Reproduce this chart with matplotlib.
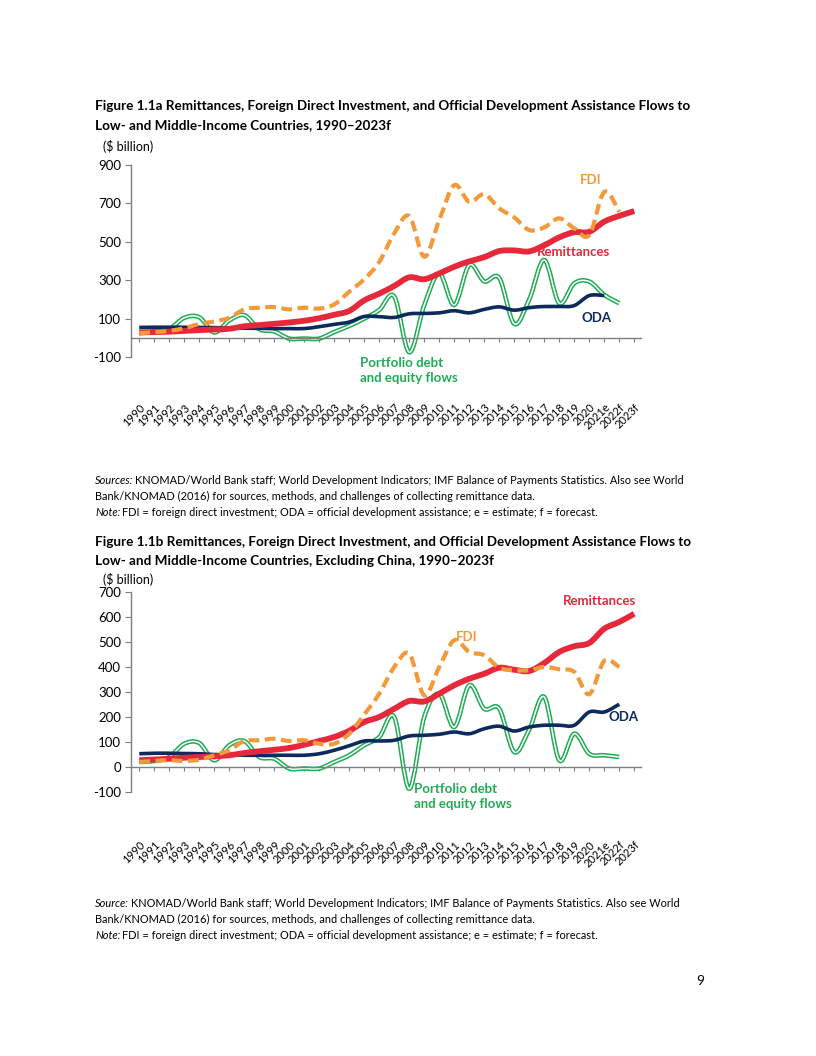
import numpy as np
import matplotlib.pyplot as plt
from matplotlib.path import Path
from matplotlib.patches import PathPatch

plt.rcParams['font.family'] = ['Lato', 'DejaVu Sans']
plt.rcParams['axes.unicode_minus'] = False

# categorias del eje x
years = [str(y) for y in range(1990, 2021)] + ['2021e', '2022f', '2023f']

# Figura 1.1a: todos los paises de ingreso bajo y medio ($ billion)
rem_a = [28, 30, 32, 36, 40, 43, 47, 60, 66, 73, 80, 89, 102, 120, 140, 195, 230,
         270, 315, 305, 335, 370, 398, 420, 452, 455, 450, 482, 523, 550, 552, 605,
         635, 660]
fdi_a = [24, 30, 36, 50, 72, 85, 104, 148, 157, 160, 148, 157, 152, 174, 240, 305,
         395, 544, 634, 422, 613, 795, 708, 748, 674, 627, 561, 575, 622, 570, 535,
         760, 656]
oda_a = [54, 55, 55, 55, 54, 53, 51, 50, 49, 48, 48, 48, 58, 70, 82, 111, 110, 106,
         125, 127, 130, 141, 130, 148, 161, 144, 157, 163, 163, 168, 220, 220]
port_a = [24, 32, 45, 104, 107, 28, 90, 118, 45, 33, -4, -4, -4, 30, 62, 100, 145,
          215, -75, 170, 335, 171, 379, 294, 311, 73, 200, 405, 180, 284, 293, 224, 180]

# Figura 1.1b: sin China ($ billion)
rem_b = [27, 30, 33, 37, 40, 43, 47, 56, 63, 69, 76, 89, 104, 120, 145, 180, 200,
         233, 264, 262, 293, 327, 353, 373, 397, 389, 384, 416, 460, 483, 496, 553,
         580, 613]
fdi_b = [20, 24, 27, 24, 29, 47, 67, 104, 107, 113, 104, 107, 93, 93, 133, 210, 293,
         400, 453, 287, 400, 507, 460, 447, 397, 387, 387, 400, 391, 380, 291, 424, 400]
oda_b = [53, 55, 55, 54, 53, 50, 49, 47, 47, 47, 47, 47, 53, 67, 85, 104, 104, 107,
         124, 127, 131, 140, 133, 153, 163, 144, 160, 167, 167, 167, 220, 220, 251]
port_b = [20, 24, 40, 93, 96, 27, 87, 104, 40, 33, -6, -6, -6, 20, 47, 87, 120, 200,
          -87, 200, 293, 160, 327, 233, 233, 60, 150, 280, 27, 133, 53, 47, 40]

RED = '#e6283b'
ORANGE = '#f29a3a'
NAVY = '#0c2a5b'
GREEN = '#1fac55'

W, H = 816, 1056


def smooth_path(y):
    # linea suavizada tipo Excel (bezier cubica por cada tramo)
    pts = np.column_stack([np.arange(len(y)), np.asarray(y, float)])
    n = len(pts)
    verts = [pts[0]]
    codes = [Path.MOVETO]
    for i in range(n - 1):
        p0 = pts[max(i - 1, 0)]
        p1 = pts[i]
        p2 = pts[i + 1]
        p3 = pts[min(i + 2, n - 1)]
        verts += [p1 + (p2 - p0) / 6, p2 - (p3 - p1) / 6, p2]
        codes += [Path.CURVE4] * 3
    return Path(verts, codes)


def draw(ax, y, color, lw, z, ls='-'):
    ax.add_patch(PathPatch(smooth_path(y), facecolor='none', edgecolor=color,
                           lw=lw, ls=ls, zorder=z, capstyle='butt'))


def setup(ax, ticks, pad):
    # la posicion del eje va primero: set_position reinicia los ticks
    ax.spines['bottom'].set_position(('data', 0))
    ax.spines[['top', 'right']].set_visible(False)
    ax.set_xlim(-0.55, 33.45)
    ax.set_ylim(ticks[0], ticks[-1])
    ax.set_yticks(ticks)
    ax.set_xticks(range(len(years)))
    ax.set_xticklabels(years, rotation=45, ha='right', rotation_mode='anchor',
                       fontsize=8)
    for s in ['left', 'bottom']:
        ax.spines[s].set_color('#7f7f7f')
        ax.spines[s].set_linewidth(1)
    ax.tick_params(axis='x', length=3, color='#7f7f7f', pad=pad)
    ax.tick_params(axis='y', length=4, color='#7f7f7f', labelsize=9.5, pad=3)
    ax.patch.set_alpha(0)


def plot_all(ax, rem, fdi, oda, port):
    draw(ax, port, GREEN, 3.3, 2)
    draw(ax, port, 'white', 1.1, 2.1)
    draw(ax, oda, NAVY, 2.6, 3)
    draw(ax, rem, RED, 4.2, 4)
    draw(ax, fdi, ORANGE, 3.0, 5, ls=(0, (2.6, 1.3)))


fig = plt.figure(figsize=(W / 100, H / 100), dpi=100)

page = fig.add_axes([0, 0, 1, 1])
page.set_xlim(0, W)
page.set_ylim(H, 0)
page.axis('off')

# --- grafico a ---
ax1 = fig.add_axes([131 / W, 1 - 357 / H, 510 / W, 192 / H])
setup(ax1, np.arange(-100, 901, 200), 43)
plot_all(ax1, rem_a, fdi_a, oda_a, port_a)
lab = dict(fontsize=9.5, fontweight='bold', zorder=6)
ax1.text(30.1, 820, 'FDI', color=ORANGE, ha='center', va='center', **lab)
ax1.text(26.5, 447, 'Remittances', color=RED, ha='left', va='center', **lab)
ax1.text(30.5, 104, 'ODA', color=NAVY, ha='center', va='center', **lab)
ax1.text(14.7, -170, 'Portfolio debt\nand equity flows', color=GREEN, ha='left',
         va='center', linespacing=1.3, **lab)

# --- grafico b ---
ax2 = fig.add_axes([131 / W, 1 - 792 / H, 510 / W, 200 / H])
setup(ax2, np.arange(-100, 701, 100), 49)
plot_all(ax2, rem_b, fdi_b, oda_b, port_b)
ax2.text(30.7, 663, 'Remittances', color=RED, ha='center', va='center', **lab)
ax2.text(21.8, 519, 'FDI', color=ORANGE, ha='center', va='center', **lab)
ax2.text(32.3, 199, 'ODA', color=NAVY, ha='center', va='center', **lab)
ax2.text(18.3, -117, 'Portfolio debt\nand equity flows', color=GREEN, ha='left',
         va='center', linespacing=1.3, **lab)

# --- textos de la pagina ---
tit = dict(fontsize=9.75, fontweight='bold', va='baseline')
page.text(95, 110, 'Figure 1.1a Remittances, Foreign Direct Investment, and Official '
          'Development Assistance Flows to', **tit)
page.text(95, 129, 'Low- and Middle-Income Countries, 1990\u20132023f', **tit)
page.text(103, 151, '($ billion)', fontsize=9, va='baseline')

page.text(95, 546, 'Figure 1.1b Remittances, Foreign Direct Investment, and Official '
          'Development Assistance Flows to', **tit)
page.text(95, 565, 'Low- and Middle-Income Countries, Excluding China, 1990\u20132023f',
          **tit)
page.text(103, 584, '($ billion)', fontsize=9, va='baseline')


def note_block(y0, first):
    fs = 7.9
    t1 = page.text(95, y0, first, fontsize=fs, style='italic', va='baseline')
    page.annotate('KNOMAD/World Bank staff; World Development Indicators; IMF Balance '
                  'of Payments Statistics. Also see World', xy=(1, 0), xycoords=t1,
                  xytext=(1.2, 0), textcoords='offset points', fontsize=fs, va='bottom')
    page.text(95, y0 + 16, 'Bank/KNOMAD (2016) for sources, methods, and challenges '
              'of collecting remittance data.', fontsize=fs, va='baseline')
    t2 = page.text(95, y0 + 32, 'Note:', fontsize=fs, style='italic', va='baseline')
    page.annotate('FDI = foreign direct investment; ODA = official development '
                  'assistance; e = estimate; f = forecast.', xy=(1, 0), xycoords=t2,
                  xytext=(1.2, 0), textcoords='offset points', fontsize=fs, va='bottom')


note_block(484, 'Sources:')
note_block(907, 'Source:')

page.text(704, 985, '9', fontsize=10, ha='right', va='baseline')

fig.savefig('out.png', dpi=100)
